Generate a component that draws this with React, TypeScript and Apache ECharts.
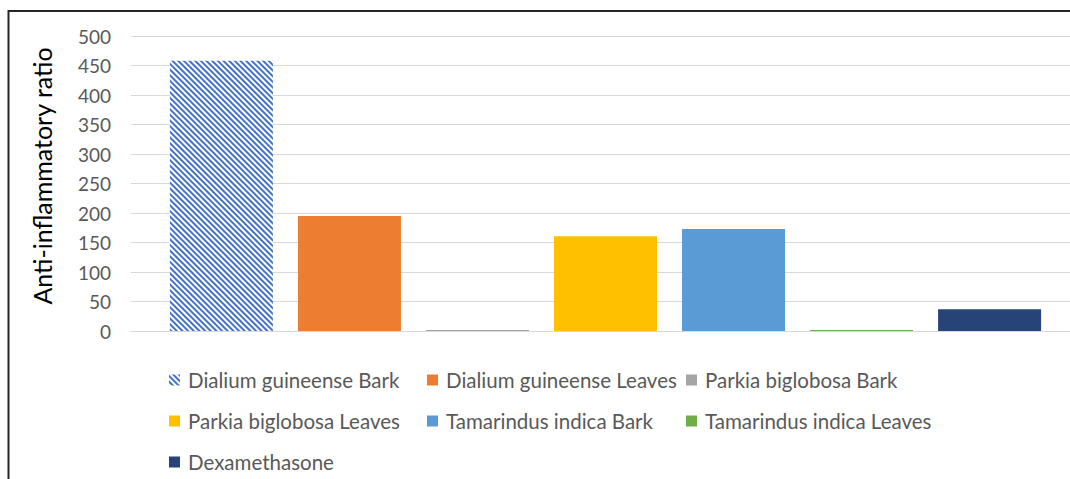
import React, { useEffect, useRef } from "react";
import * as echarts from "echarts";

const seriesNames = [
  "Dialium guineense Bark",
  "Dialium guineense Leaves",
  "Parkia biglobosa Bark",
  "Parkia biglobosa Leaves",
  "Tamarindus indica Bark",
  "Tamarindus indica Leaves",
  "Dexamethasone",
];
const seriesValues = [458, 195, 1.5, 160.5, 173, 1.5, 37];
const seriesColors = ["#ffffff", "#ED7D31", "#A5A5A5", "#FFC000", "#5B9BD5", "#70AD47", "#264478"];
const yTicks = [0, 50, 100, 150, 200, 250, 300, 350, 400, 450, 500];
// legend slot (column, row) for each series, in series order
const legendCol = [0, 1, 2, 0, 1, 2, 0];
const legendRow = [0, 0, 0, 1, 1, 1, 2];
const legendLefts = [169, 427, 686];
const legendTops = [369, 410, 451];

export default function App() {
  const ref = useRef<HTMLDivElement>(null);
  useEffect(() => {
    document.body.style.margin = "0";
    if (!ref.current) return;
    const chart = echarts.init(ref.current, undefined, { renderer: "svg" });
    const font = "Lato";
    const yMin = yTicks[0];
    const yMax = yTicks[yTicks.length - 1];
    const series = seriesNames.map((name, i) => ({
      name,
      type: "bar",
      xAxisIndex: 1,
      yAxisIndex: 1,
      data: [seriesValues[i]],
      barWidth: 103,
      barGap: "24.3%",
      itemStyle: i === 0
        ? {
            color: "#ffffff",
            decal: {
              symbol: "rect",
              color: "#4472C4",
              dashArrayX: [1, 0],
              dashArrayY: [1.9, 1.4],
              rotation: Math.PI / 4,
            },
          }
        : { color: seriesColors[i] },
    }));
    chart.setOption({
      animation: false,
      backgroundColor: "#ffffff",
      grid: [
        { left: 131, top: 36, right: 0, height: 295, containLabel: false },
        { left: 141, top: 36, right: 0, height: 295, containLabel: false },
      ],
      xAxis: [
        {
          type: "category",
          gridIndex: 0,
          data: [""],
          axisLine: { show: true, lineStyle: { color: "#d9d9d9", width: 1 } },
          axisTick: { show: false },
          axisLabel: { show: false },
        },
        {
          type: "category",
          gridIndex: 1,
          data: [""],
          axisLine: { show: false },
          axisTick: { show: false },
          axisLabel: { show: false },
        },
      ],
      yAxis: [
        {
          type: "value",
          gridIndex: 0,
          min: yMin,
          max: yMax,
          interval: 50,
          axisLine: { show: false },
          axisTick: { show: false },
          splitLine: { lineStyle: { color: "#d9d9d9", width: 1 } },
          axisLabel: { color: "#595959", fontSize: 19, fontFamily: font, margin: 20 },
        },
        {
          type: "value",
          gridIndex: 1,
          min: yMin,
          max: yMax,
          interval: 50,
          axisLine: { show: false },
          axisTick: { show: false },
          splitLine: { show: false },
          axisLabel: { show: false },
        },
      ],
      legend: seriesNames.map((name, i) => ({
        data: [name],
        left: legendLefts[legendCol[i]],
        top: legendTops[legendRow[i]],
        padding: 0,
        itemWidth: 11,
        itemHeight: 11,
        icon: "rect",
        textStyle: {
          color: "#595959",
          fontSize: 20.5,
          fontFamily: font,
          lineHeight: 22,
          padding: [0, 0, 0, 3],
        },
        selectedMode: false,
      })),
      graphic: [
        {
          type: "polyline",
          shape: { points: [[8.5, 479], [8.5, 11], [1070, 11]] },
          style: { stroke: "#262626", lineWidth: 2, fill: "none" },
          silent: true,
        },
        {
          type: "text",
          x: 42,
          y: 176,
          rotation: Math.PI / 2,
          style: {
            text: "Anti-inflammatory ratio",
            fill: "#000000",
            font: "25px Lato",
            align: "center",
            verticalAlign: "middle",
          },
        },
      ],
      series,
    });
    return () => chart.dispose();
  }, []);
  return <div ref={ref} style={{ width: 1070, height: 479 }} />;
}
